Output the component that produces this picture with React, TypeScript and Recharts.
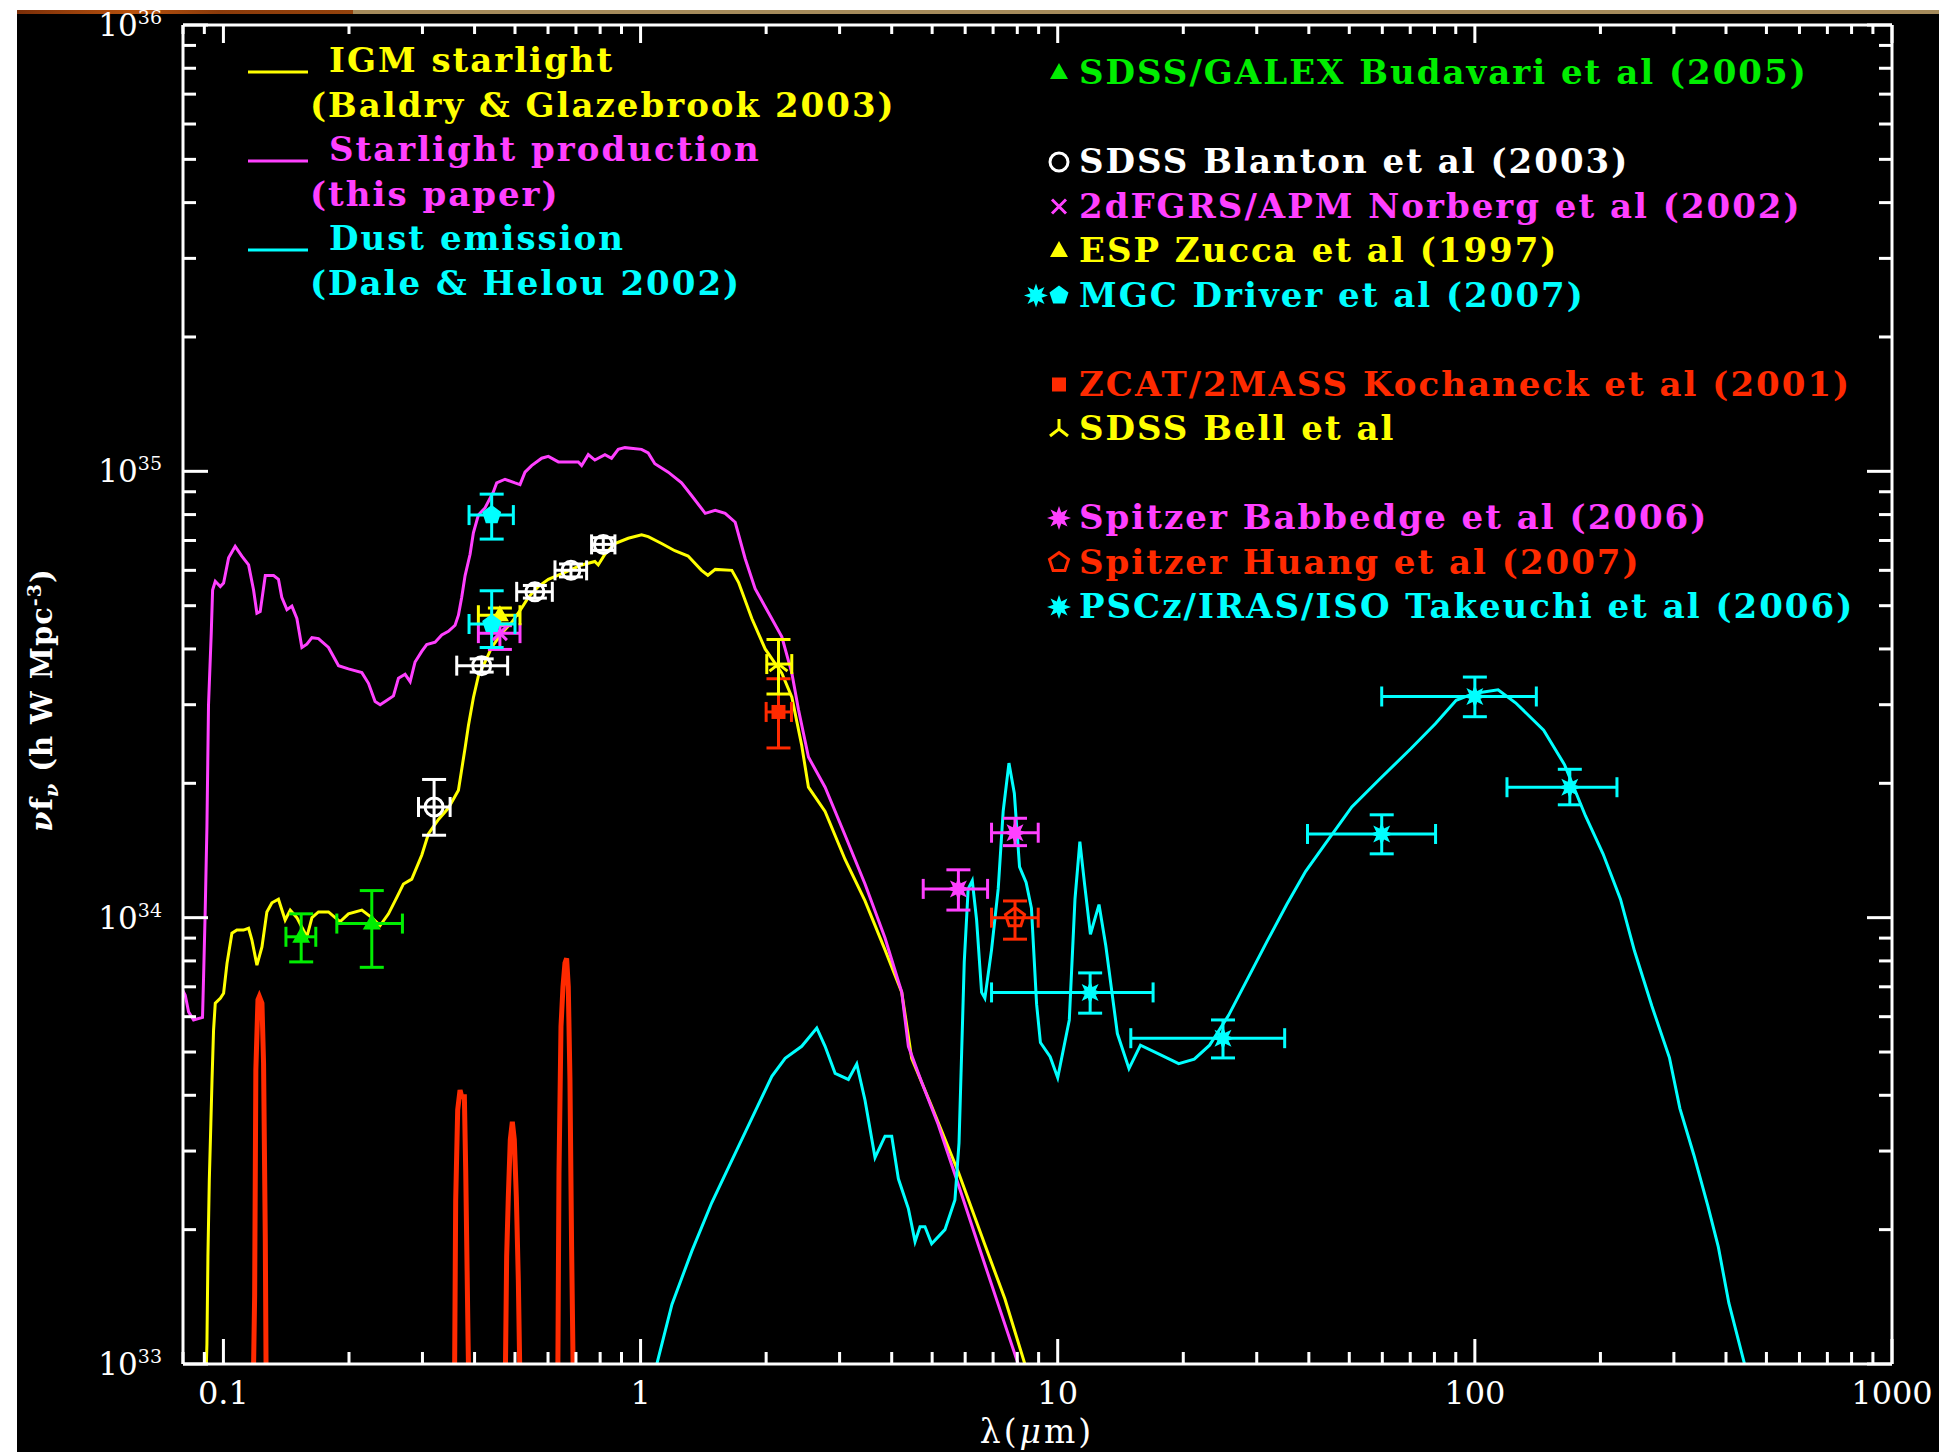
import React from 'react';
import { ComposedChart, Line, Scatter, ErrorBar, XAxis, YAxis } from 'recharts';

// axes
const X_MAJOR = [0.1, 1, 10, 100, 1000];
const X_LABELS = ['0.1', '1', '10', '100', '1000'];
const X_EDGE_TICKS = [0.08, 0.09];
const Y_MAJOR = [1e33, 1e34, 1e35, 1e36];
const Y_EXPONENTS = ['33', '34', '35', '36'];
const MINOR_STEPS = [2, 3, 4, 5, 6, 7, 8, 9];

const X_TICKS = [...X_EDGE_TICKS, ...X_MAJOR.flatMap((d) => (d < 1000 ? [d, ...MINOR_STEPS.map((m) => d * m)] : [d]))];
const Y_TICKS = Y_MAJOR.flatMap((d) => (d < 1e36 ? [d, ...MINOR_STEPS.map((m) => d * m)] : [d]));

const YELLOW = '#ffff00';
const MAGENTA = '#ff40ff';
const CYAN = '#00ffff';
const GREEN = '#00ee00';
const RED = '#ff2a00';
const WHITE = '#ffffff';

// curves: [lambda (micron), nu f_nu]
const IGM_STARLIGHT = [
  [0.0904, 8e32], [0.0913, 1.11e33], [0.0918, 1.74e33], [0.0925, 2.58e33], [0.0933, 3.46e33],
  [0.0939, 4.33e33], [0.0947, 5.6e33], [0.0956, 6.43e33], [0.0983, 6.6e33], [0.1001, 6.77e33],
  [0.102, 7.9e33], [0.1048, 9.23e33], [0.1077, 9.38e33], [0.1117, 9.38e33], [0.1149, 9.47e33],
  [0.117, 8.92e33], [0.1203, 7.83e33], [0.1237, 8.6e33], [0.1271, 1.03e34], [0.1307, 1.08e34],
  [0.1355, 1.1e34], [0.1406, 9.88e33], [0.1446, 1.04e34], [0.15, 1.0e34], [0.1585, 9.06e33],
  [0.163, 1.0e34], [0.169, 1.03e34], [0.1786, 1.03e34], [0.1853, 1.0e34], [0.1905, 9.8e33],
  [0.1994, 1.02e34], [0.2147, 1.04e34], [0.2268, 1.0e34], [0.2375, 9.6e33], [0.2487, 1.02e34],
  [0.2604, 1.11e34], [0.2701, 1.19e34], [0.2828, 1.22e34], [0.2988, 1.38e34], [0.31, 1.54e34],
  [0.3277, 1.66e34], [0.3462, 1.76e34], [0.3659, 1.93e34], [0.3796, 2.4e34], [0.3866, 2.69e34],
  [0.3974, 3.11e34], [0.4085, 3.48e34], [0.42, 3.67e34], [0.4396, 4.03e34], [0.4647, 4.34e34],
  [0.4911, 4.59e34], [0.5188, 4.94e34], [0.5383, 5.22e34], [0.5688, 5.52e34], [0.601, 5.73e34],
  [0.6587, 5.94e34], [0.7224, 6.17e34], [0.777, 6.28e34], [0.7916, 6.17e34], [0.8215, 6.52e34],
  [0.868, 6.89e34], [0.9343, 7.08e34], [1.0055, 7.21e34], [1.043, 7.14e34], [1.123, 6.89e34],
  [1.208, 6.64e34], [1.3, 6.46e34], [1.4, 6.0e34], [1.45, 5.85e34], [1.51, 6.03e34],
  [1.655, 6.0e34], [1.717, 5.64e34], [1.848, 4.68e34], [1.989, 4.0e34], [2.181, 3.53e34],
  [2.305, 3.12e34], [2.434, 2.43e34], [2.526, 1.96e34], [2.769, 1.73e34], [3.092, 1.35e34],
  [3.452, 1.09e34], [3.855, 8.47e33], [4.227, 6.81e33], [4.466, 4.84e33], [4.987, 3.78e33],
  [5.78, 2.69e33], [6.69, 1.85e33], [7.47, 1.4e33], [8.34, 1.0e33], [8.8, 8e32],
];

const STARLIGHT_PRODUCTION = [
  [0.0797, 6.9e33], [0.081, 6.7e33], [0.0825, 6.15e33], [0.0848, 5.9e33], [0.0891, 5.98e33],
  [0.0896, 7.3e33], [0.0904, 1.02e34], [0.0913, 1.6e34], [0.0921, 3.0e34], [0.0935, 4.34e34],
  [0.0942, 5.42e34], [0.0956, 5.67e34], [0.0983, 5.52e34], [0.1001, 5.62e34], [0.1029, 6.4e34],
  [0.1067, 6.79e34], [0.1107, 6.46e34], [0.1149, 6.17e34], [0.1181, 5.42e34], [0.1203, 4.81e34],
  [0.1225, 4.85e34], [0.126, 5.84e34], [0.1319, 5.84e34], [0.1355, 5.73e34], [0.138, 5.22e34],
  [0.142, 4.9e34], [0.1459, 4.99e34], [0.15, 4.68e34], [0.1542, 4.03e34], [0.1585, 4.1e34],
  [0.163, 4.24e34], [0.169, 4.22e34], [0.1786, 4.03e34], [0.1888, 3.67e34], [0.1994, 3.61e34],
  [0.2147, 3.54e34], [0.2227, 3.35e34], [0.231, 3.05e34], [0.2375, 3.0e34], [0.2441, 3.05e34],
  [0.2556, 3.14e34], [0.2628, 3.44e34], [0.2726, 3.51e34], [0.2803, 3.38e34], [0.288, 3.74e34],
  [0.2988, 3.95e34], [0.3071, 4.09e34], [0.3217, 4.14e34], [0.3337, 4.3e34], [0.3462, 4.38e34],
  [0.3592, 4.52e34], [0.3659, 4.76e34], [0.3726, 5.22e34], [0.3796, 5.84e34], [0.3902, 6.52e34],
  [0.3974, 7.28e34], [0.4085, 7.98e34], [0.4237, 8.28e34], [0.4437, 8.99e34], [0.4519, 9.42e34],
  [0.4732, 9.6e34], [0.5, 9.42e34], [0.514, 9.34e34], [0.5284, 9.96e34], [0.548, 1.03e35],
  [0.5793, 1.07e35], [0.601, 1.08e35], [0.6352, 1.05e35], [0.671, 1.05e35], [0.709, 1.05e35],
  [0.7224, 1.03e35], [0.7493, 1.09e35], [0.777, 1.06e35], [0.8215, 1.09e35], [0.852, 1.07e35],
  [0.8841, 1.12e35], [0.9172, 1.13e35], [1.0055, 1.12e35], [1.043, 1.1e35], [1.082, 1.04e35],
  [1.165, 9.96e34], [1.254, 9.42e34], [1.325, 8.83e34], [1.429, 8.05e34], [1.51, 8.18e34],
  [1.595, 8.05e34], [1.686, 7.69e34], [1.781, 6.38e34], [1.882, 5.46e34], [2.026, 4.82e34],
  [2.181, 4.26e34], [2.305, 3.53e34], [2.39, 2.93e34], [2.526, 2.29e34], [2.769, 1.96e34],
  [3.092, 1.53e34], [3.452, 1.19e34], [3.855, 9.0e33], [4.227, 6.81e33], [4.385, 5.15e33],
  [4.72, 4.28e33], [5.17, 3.44e33], [5.78, 2.52e33], [6.45, 1.85e33], [7.2, 1.36e33],
  [8.04, 1.0e33], [8.5, 8e32],
];

const DUST_EMISSION = [
  [1.06, 8e32], [1.094, 1.0e33], [1.189, 1.36e33], [1.327, 1.79e33], [1.482, 2.3e33],
  [1.655, 2.86e33], [1.848, 3.55e33], [2.064, 4.41e33], [2.221, 4.84e33], [2.434, 5.15e33],
  [2.645, 5.66e33], [2.769, 5.15e33], [2.927, 4.48e33], [3.149, 4.34e33], [3.298, 4.7e33],
  [3.452, 3.9e33], [3.648, 2.9e33], [3.855, 3.24e33], [4.0, 3.24e33], [4.15, 2.6e33],
  [4.385, 2.23e33], [4.55, 1.88e33], [4.676, 2.03e33], [4.806, 2.03e33], [4.987, 1.86e33],
  [5.366, 2.0e33], [5.67, 2.33e33], [5.8, 3.13e33], [5.885, 5.0e33], [5.97, 7.96e33],
  [6.1, 1.16e34], [6.24, 1.21e34], [6.39, 9.9e33], [6.57, 6.8e33], [6.69, 6.6e33],
  [6.94, 8.47e33], [7.2, 1.16e34], [7.4, 1.73e34], [7.64, 2.22e34], [7.87, 1.9e34],
  [8.1, 1.3e34], [8.4, 1.2e34], [8.65, 1.05e34], [8.9, 6.4e33], [9.09, 5.25e33],
  [9.59, 4.88e33], [10.0, 4.38e33], [10.66, 5.9e33], [11.0, 1.1e34], [11.3, 1.48e34],
  [11.61, 1.18e34], [11.98, 9.18e33], [12.56, 1.07e34], [13.04, 8.65e33], [13.9, 5.5e33],
  [14.82, 4.59e33], [15.79, 5.18e33], [17.55, 4.94e33], [19.5, 4.71e33], [21.25, 4.82e33],
  [23.13, 5.18e33], [25.7, 6.05e33], [28.6, 7.33e33], [31.8, 8.87e33], [35.4, 1.07e34],
  [39.3, 1.27e34], [43.7, 1.46e34], [50.7, 1.77e34], [59.0, 2.04e34], [70.2, 2.39e34],
  [80.4, 2.72e34], [90.2, 3.07e34], [99.4, 3.18e34], [113.7, 3.24e34], [125.2, 3.03e34],
  [146.2, 2.63e34], [164.1, 2.2e34], [184.2, 1.69e34], [202.9, 1.39e34], [223.4, 1.1e34],
  [241.3, 8.43e33], [265.8, 6.33e33], [292.7, 4.86e33], [310.1, 3.74e33], [335.0, 2.94e33],
  [361.9, 2.26e33], [383.4, 1.83e33], [406.3, 1.37e33], [443.1, 1.0e33], [460, 8.5e32],
];

// red emission lines
const EMISSION_LINE_1 = [
  [0.1177, 8e32], [0.1188, 1.42e33], [0.1196, 4.56e33], [0.121, 6.55e33], [0.1219, 6.66e33],
  [0.1237, 6.43e33], [0.1248, 4.72e33], [0.126, 1.91e33], [0.1267, 8e32],
];
const EMISSION_LINE_2 = [
  [0.3578, 8e32], [0.3604, 2.33e33], [0.3644, 3.71e33], [0.3692, 4.11e33], [0.3726, 3.97e33],
  [0.3781, 3.97e33], [0.3809, 2.72e33], [0.3851, 1.3e33], [0.388, 8e32],
];
const EMISSION_LINE_3 = [
  [0.4732, 8e32], [0.4775, 1.74e33], [0.4819, 2.37e33], [0.4872, 3.18e33], [0.4927, 3.49e33],
  [0.4981, 3.18e33], [0.5037, 2.37e33], [0.5093, 1.54e33], [0.515, 8e32],
];
const EMISSION_LINE_4 = [
  [0.6327, 8e32], [0.6374, 2.67e33], [0.6445, 5.7e33], [0.6516, 7.0e33], [0.6588, 7.91e33],
  [0.6649, 8.11e33], [0.671, 7.0e33], [0.6772, 4.33e33], [0.6834, 1.83e33], [0.691, 8e32],
];

// measurements: [lambda, value, lambda low, lambda high, value low, value high]
const SDSS_GALEX = [
  [0.1536, 9.06e33, 0.1412, 0.1665, 7.96e33, 1.02e34],
  [0.2268, 9.7e33, 0.187, 0.2686, 7.74e33, 1.15e34],
];
const SDSS_BLANTON = [
  [0.3199, 1.77e34, 0.2935, 0.3495, 1.53e34, 2.04e34],
  [0.416, 3.67e34, 0.3625, 0.4801, 3.55e34, 3.8e34],
  [0.558, 5.37e34, 0.5047, 0.6144, 5.2e34, 5.55e34],
  [0.681, 6.0e34, 0.6235, 0.7424, 5.8e34, 6.2e34],
  [0.814, 6.86e34, 0.763, 0.868, 6.65e34, 7.1e34],
];
const NORBERG = [[0.46, 4.34e34, 0.4085, 0.514, 3.99e34, 4.51e34]];
const ZUCCA = [[0.46, 4.76e34, 0.4085, 0.514, 4.55e34, 4.94e34]];
const MGC_DRIVER = [
  [0.4396, 7.98e34, 0.388, 0.4955, 7.05e34, 8.89e34],
  [0.4396, 4.55e34, 0.388, 0.5, 4.03e34, 5.4e34],
];
const KOCHANEK = [[2.141, 2.89e34, 2.0, 2.3, 2.4e34, 3.43e34]];
const SDSS_BELL = [[2.141, 3.7e34, 2.007, 2.304, 3.17e34, 4.2e34]];
const BABBEDGE = [
  [5.78, 1.16e34, 4.76, 6.79, 1.04e34, 1.28e34],
  [7.9, 1.55e34, 6.94, 8.98, 1.45e34, 1.67e34],
];
const HUANG = [[7.9, 1.0e34, 6.94, 8.98, 8.95e33, 1.09e34]];
const TAKEUCHI = [
  [11.96, 6.8e33, 6.94, 16.93, 6.11e33, 7.52e33],
  [24.9, 5.37e33, 14.97, 35.0, 4.85e33, 5.9e33],
  [59.8, 1.54e34, 39.7, 80.5, 1.39e34, 1.7e34],
  [100, 3.13e34, 59.8, 140.4, 2.82e34, 3.46e34],
  [168.9, 1.96e34, 119.4, 219.1, 1.79e34, 2.15e34],
];

const LEFT_LEGEND = [
  { lines: ['IGM starlight', '(Baldry & Glazebrook 2003)'], color: YELLOW },
  { lines: ['Starlight production', '(this paper)'], color: MAGENTA },
  { lines: ['Dust emission', '(Dale & Helou 2002)'], color: CYAN },
];

type Kind = 'triangle' | 'circle' | 'cross' | 'square' | 'wye' | 'pentagon' | 'openPentagon' | 'star';

const POINT_SETS: { label: string; data: number[][]; color: string; kind: Kind; slot: number }[] = [
  { label: 'SDSS/GALEX Budavari et al (2005)', data: SDSS_GALEX, color: GREEN, kind: 'triangle', slot: 0 },
  { label: 'SDSS Blanton et al (2003)', data: SDSS_BLANTON, color: WHITE, kind: 'circle', slot: 2 },
  { label: '2dFGRS/APM Norberg et al (2002)', data: NORBERG, color: MAGENTA, kind: 'cross', slot: 3 },
  { label: 'ESP Zucca et al (1997)', data: ZUCCA, color: YELLOW, kind: 'triangle', slot: 4 },
  { label: 'MGC Driver et al (2007)', data: MGC_DRIVER, color: CYAN, kind: 'pentagon', slot: 5 },
  { label: 'ZCAT/2MASS Kochaneck et al (2001)', data: KOCHANEK, color: RED, kind: 'square', slot: 7 },
  { label: 'SDSS Bell et al', data: SDSS_BELL, color: YELLOW, kind: 'wye', slot: 8 },
  { label: 'Spitzer Babbedge et al (2006)', data: BABBEDGE, color: MAGENTA, kind: 'star', slot: 10 },
  { label: 'Spitzer Huang et al (2007)', data: HUANG, color: RED, kind: 'openPentagon', slot: 11 },
  { label: 'PSCz/IRAS/ISO Takeuchi et al (2006)', data: TAKEUCHI, color: CYAN, kind: 'star', slot: 12 },
];

const toRows = (pts: number[][]) => pts.map(([x, v]) => ({ x, v }));
const toPoints = (pts: number[][]) =>
  pts.map(([x, v, xl, xh, vl, vh]) => ({ x, v, ex: [x - xl, xh - x], ey: [v - vl, vh - v] }));

const FONT = '"DejaVu Serif", serif';

function polyPoints(cx: number, cy: number, radii: number[], n: number) {
  const pts: string[] = [];
  for (let k = 0; k < n; k++) {
    const a = (-90 + (360 / n) * k) * (Math.PI / 180);
    const r = radii[k % radii.length];
    pts.push(`${cx + r * Math.cos(a)},${cy + r * Math.sin(a)}`);
  }
  return pts.join(' ');
}

function Marker({ kind, cx, cy, color }: { kind: Kind; cx: number; cy: number; color: string }) {
  switch (kind) {
    case 'triangle':
      return <polygon points={`${cx},${cy - 10} ${cx + 9},${cy + 6} ${cx - 9},${cy + 6}`} fill={color} />;
    case 'circle':
      return <circle cx={cx} cy={cy} r={9} fill="none" stroke={color} strokeWidth={3} />;
    case 'cross':
      return (
        <path d={`M${cx - 7},${cy - 7}L${cx + 7},${cy + 7}M${cx - 7},${cy + 7}L${cx + 7},${cy - 7}`} stroke={color} strokeWidth={3} />
      );
    case 'square':
      return <rect x={cx - 7} y={cy - 7} width={14} height={14} fill={color} />;
    case 'wye':
      return (
        <path d={`M${cx},${cy - 10}L${cx},${cy}L${cx - 9},${cy + 7}M${cx},${cy}L${cx + 9},${cy + 7}`} stroke={color} strokeWidth={3} fill="none" />
      );
    case 'pentagon':
      return <polygon points={polyPoints(cx, cy, [10], 5)} fill={color} />;
    case 'openPentagon':
      return <polygon points={polyPoints(cx, cy, [10], 5)} fill="none" stroke={color} strokeWidth={3} />;
    case 'star':
      return <polygon points={polyPoints(cx, cy, [12, 6], 16)} fill={color} />;
  }
  return null;
}

const majorIndex = (list: number[], v: number) => list.findIndex((m) => Math.abs(m - v) / m < 1e-6);

function BottomTick(props: any) {
  const { x, y, payload } = props;
  const i = majorIndex(X_MAJOR, payload.value);
  return (
    <g>
      <line x1={x} x2={x} y1={y} y2={y - (i >= 0 ? 25 : 12)} stroke={WHITE} strokeWidth={3} />
      {i >= 0 && (
        <text x={x} y={y + 40} textAnchor="middle" fill={WHITE} fontFamily={FONT} fontSize={32}>
          {X_LABELS[i]}
        </text>
      )}
    </g>
  );
}

function TopTick(props: any) {
  const { x, y, payload } = props;
  const i = majorIndex(X_MAJOR, payload.value);
  return <line x1={x} x2={x} y1={y} y2={y + (i >= 0 ? 18 : 9)} stroke={WHITE} strokeWidth={3} />;
}

function LeftTick(props: any) {
  const { x, y, payload } = props;
  const i = majorIndex(Y_MAJOR, payload.value);
  return (
    <g>
      <line x1={x} x2={x + (i >= 0 ? 25 : 13)} y1={y} y2={y} stroke={WHITE} strokeWidth={3} />
      {i >= 0 && (
        <text x={x - 21} y={y + 11} textAnchor="end" fill={WHITE} fontFamily={FONT} fontSize={31}>
          10<tspan dy={-12} fontSize={19}>{Y_EXPONENTS[i]}</tspan>
        </text>
      )}
    </g>
  );
}

function RightTick(props: any) {
  const { x, y, payload } = props;
  const i = majorIndex(Y_MAJOR, payload.value);
  return <line x1={x} x2={x - (i >= 0 ? 25 : 13)} y1={y} y2={y} stroke={WHITE} strokeWidth={3} />;
}

const axisLine = { stroke: WHITE, strokeWidth: 3 };
const LEGEND_TEXT = { fontFamily: FONT, fontWeight: 'bold' as const, fontSize: 34, letterSpacing: 2 };

export default function App() {
  const curves = [
    { data: IGM_STARLIGHT, color: YELLOW, w: 3 },
    { data: STARLIGHT_PRODUCTION, color: MAGENTA, w: 3 },
    { data: DUST_EMISSION, color: CYAN, w: 3 },
    { data: EMISSION_LINE_1, color: RED, w: 5 },
    { data: EMISSION_LINE_2, color: RED, w: 5 },
    { data: EMISSION_LINE_3, color: RED, w: 5 },
    { data: EMISSION_LINE_4, color: RED, w: 5 },
  ];

  return (
    <div style={{ position: 'absolute', left: 0, top: 0, width: 1944, height: 1452, background: '#fff', overflow: 'hidden' }}>
      <div style={{ position: 'absolute', left: 17, top: 14, width: 1922, height: 1438, background: '#000' }} />
      <div
        style={{
          position: 'absolute', left: 17, top: 10, width: 336, height: 4,
          background: 'linear-gradient(90deg, #7a2e08, #b8520e 35%, #8a3a0a 60%, #93420c)',
        }}
      />
      <div style={{ position: 'absolute', left: 353, top: 10, width: 1586, height: 4, background: '#a48a5a' }} />

      <div style={{ position: 'absolute', left: 0, top: 0 }}>
        <ComposedChart width={1944} height={1452} margin={{ top: 24, right: 51, bottom: 87, left: 182 }}>
          <XAxis
            xAxisId="b" orientation="bottom" type="number" dataKey="x" scale="log" domain={[0.08, 1000]} allowDataOverflow
            ticks={X_TICKS} interval={0} height={1} tickSize={0} tickMargin={0} tickLine={false}
            axisLine={axisLine} tick={(p: any) => <BottomTick {...p} />}
          />
          <XAxis
            xAxisId="t" orientation="top" type="number" dataKey="x" scale="log" domain={[0.08, 1000]} allowDataOverflow
            ticks={X_TICKS} interval={0} height={1} tickSize={0} tickMargin={0} tickLine={false}
            axisLine={axisLine} tick={(p: any) => <TopTick {...p} />}
          />
          <YAxis
            yAxisId="l" orientation="left" type="number" scale="log" domain={[1e33, 1e36]} allowDataOverflow
            ticks={Y_TICKS} interval={0} width={1} tickSize={0} tickMargin={0} tickLine={false}
            axisLine={axisLine} tick={(p: any) => <LeftTick {...p} />}
          />
          <YAxis
            yAxisId="r" orientation="right" type="number" scale="log" domain={[1e33, 1e36]} allowDataOverflow
            ticks={Y_TICKS} interval={0} width={1} tickSize={0} tickMargin={0} tickLine={false}
            axisLine={axisLine} tick={(p: any) => <RightTick {...p} />}
          />

          {curves.map((c, i) => (
            <Line
              key={`c${i}`} xAxisId="b" yAxisId="l" data={toRows(c.data)} dataKey="v" type="linear" stroke={c.color}
              strokeWidth={c.w} dot={false} activeDot={false} isAnimationActive={false}
            />
          ))}

          {POINT_SETS.map((s, i) => (
            <Scatter
              key={`s${i}`} xAxisId="b" yAxisId="l" data={toPoints(s.data)} dataKey="v" fill={s.color} isAnimationActive={false}
              shape={(p: any) => <Marker kind={s.kind} cx={p.cx} cy={p.cy} color={s.color} />}
            >
              <ErrorBar dataKey="ex" direction="x" stroke={s.color} strokeWidth={3} width={10} />
              <ErrorBar dataKey="ey" direction="y" stroke={s.color} strokeWidth={3} width={12} />
            </Scatter>
          ))}

          {/* invisible carrier so the mirrored top/right axes have a bound series */}
          <Line xAxisId="t" yAxisId="r" data={toRows(DUST_EMISSION)} dataKey="v" stroke="none" dot={false} activeDot={false} isAnimationActive={false} />
        </ComposedChart>
      </div>

      <svg width={1944} height={1452} style={{ position: 'absolute', left: 0, top: 0, pointerEvents: 'none' }}>
        {/* left legend */}
        {LEFT_LEGEND.map((e, i) => (
          <g key={`l${i}`}>
            <line x1={248} x2={308} y1={72 + 89 * i} y2={72 + 89 * i} stroke={e.color} strokeWidth={3} />
            <text x={329} y={72 + 89 * i} fill={e.color} {...LEGEND_TEXT}>
              {e.lines[0]}
            </text>
            <text x={310} y={116.5 + 89 * i} fill={e.color} {...LEGEND_TEXT}>
              {e.lines[1]}
            </text>
          </g>
        ))}

        {/* right legend */}
        {POINT_SETS.map((s, i) => {
          const base = 84 + 44.5 * s.slot;
          return (
            <g key={`r${i}`}>
              {s.kind === 'pentagon' && <Marker kind="star" cx={1036} cy={base - 11} color={s.color} />}
              <Marker kind={s.kind} cx={1059} cy={base - 11} color={s.color} />
              <text x={1079} y={base} fill={s.color} {...LEGEND_TEXT}>
                {s.label}
              </text>
            </g>
          );
        })}

        {/* axis titles */}
        <text x={1037} y={1443} textAnchor="middle" fill={WHITE} fontFamily={FONT} fontSize={33} letterSpacing={3}>
          λ(<tspan fontStyle="italic">μ</tspan>m)
        </text>
        <text
          transform="translate(52,700) rotate(-90)" textAnchor="middle" fill={WHITE}
          fontFamily={FONT} fontWeight="bold" fontSize={29} letterSpacing={1}
        >
          <tspan fontStyle="italic">ν</tspan>f<tspan dy={6} fontSize={19} fontStyle="italic">ν</tspan>
          <tspan dy={-6}> (h W Mpc</tspan>
          <tspan dy={-11} fontSize={19}>-3</tspan>
          <tspan dy={11}>)</tspan>
        </text>
      </svg>
    </div>
  );
}
